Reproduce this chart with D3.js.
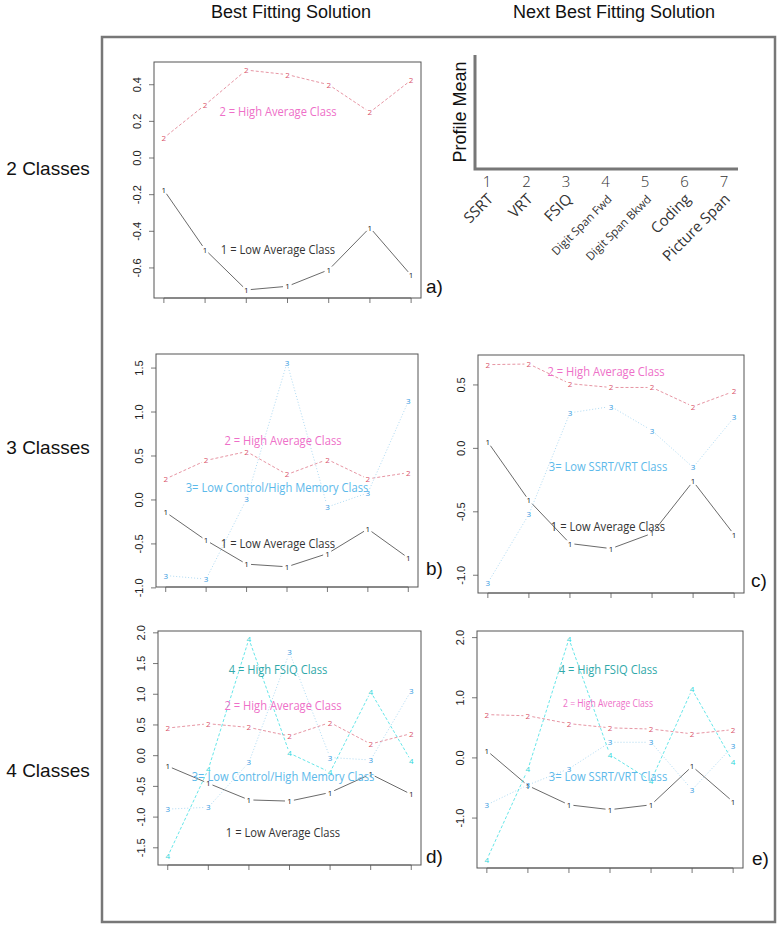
<!DOCTYPE html>
<html>
<head>
<meta charset="utf-8">
<script src="https://cdn.jsdelivr.net/npm/d3@7"></script>
<style>
  body { margin: 0; background: #fff; }
  svg { display: block; }
</style>
</head>
<body>
<script>
// ---------------- data ----------------
var tests = ["SSRT", "VRT", "FSIQ", "Digit Span Fwd", "Digit Span Bkwd", "Coding", "Picture Span"];
var xTicks = [1, 2, 3, 4, 5, 6, 7];

// a) 2 classes, best
var a_low  = [-0.175, -0.50, -0.72, -0.70, -0.61, -0.38, -0.64];
var a_high = [0.11, 0.29, 0.48, 0.455, 0.40, 0.25, 0.425];
var a_yTicks = [-0.6, -0.4, -0.2, 0.0, 0.2, 0.4];

// b) 3 classes, best
var b_low  = [-0.14, -0.46, -0.73, -0.76, -0.61, -0.33, -0.66];
var b_high = [0.24, 0.45, 0.55, 0.29, 0.46, 0.24, 0.31];
var b_ctrl = [-0.86, -0.90, 0.01, 1.56, -0.08, 0.08, 1.12];
var b_yTicks = [-1.0, -0.5, 0.0, 0.5, 1.0, 1.5];

// c) 3 classes, next best
var c_low  = [0.05, -0.41, -0.75, -0.79, -0.67, -0.26, -0.68];
var c_high = [0.66, 0.665, 0.51, 0.48, 0.48, 0.33, 0.45];
var c_ssrt = [-1.06, -0.52, 0.28, 0.33, 0.14, -0.15, 0.245];
var c_yTicks = [-1.0, -0.5, 0.0, 0.5];

// d) 4 classes, best
var d_low  = [-0.17, -0.45, -0.72, -0.74, -0.60, -0.30, -0.63];
var d_high = [0.45, 0.52, 0.46, 0.32, 0.54, 0.19, 0.36];
var d_ctrl = [-0.87, -0.84, -0.11, 1.68, -0.03, -0.07, 1.06];
var d_fsiq = [-1.64, -0.22, 1.90, 0.04, -0.27, 1.04, -0.09];
var d_yTicks = [-1.5, -1.0, -0.5, 0.0, 0.5, 1.0, 1.5, 2.0];

// e) 4 classes, next best
var e_low  = [0.12, -0.46, -0.78, -0.86, -0.78, -0.14, -0.73];
var e_high = [0.72, 0.70, 0.57, 0.50, 0.48, 0.40, 0.47];
var e_ssrt = [-0.78, -0.45, -0.18, 0.26, 0.26, -0.53, 0.20];
var e_fsiq = [-1.69, -0.19, 1.98, 0.05, -0.38, 1.14, -0.07];
var e_yTicks = [-1.0, 0.0, 1.0, 2.0];

// ---------------- styles ----------------
var width = 780, height = 926;
var sans = "'Liberation Sans', Arial, sans-serif";
var open = "'Open Sans', 'Noto Sans', sans-serif";

var cls = {
  1: {line: "#444", mark: "#222", dash: null,  text: "#333"},
  2: {line: "#e07a8c", mark: "#d9536b", dash: "3,2", text: "#ee6fc8"},
  3: {line: "#9bd0ef", mark: "#2f97e0", dash: "1,2", text: "#5cb9ea"},
  4: {line: "#3fe0e3", mark: "#2ad6da", dash: "3,2", text: "#30a9aa"}
};

var svg = d3.select("body").append("svg")
    .attr("width", width)
    .attr("height", height);

// outer frame
svg.append("rect")
    .attr("x", 102).attr("y", 37)
    .attr("width", 673).attr("height", 885)
    .attr("fill", "none")
    .attr("stroke", "#777")
    .attr("stroke-width", 2.5);

// column titles
svg.append("text").attr("x", 291).attr("y", 18)
    .attr("text-anchor", "middle").style("font-family", sans).style("font-size", "18px")
    .attr("fill", "#111").text("Best Fitting Solution");
svg.append("text").attr("x", 614).attr("y", 18)
    .attr("text-anchor", "middle").style("font-family", sans).style("font-size", "18px")
    .attr("fill", "#111").text("Next Best Fitting Solution");

// row titles
[["2 Classes", 175], ["3 Classes", 454], ["4 Classes", 777]].forEach(function(r){
  svg.append("text").attr("x", 48).attr("y", r[1])
      .attr("text-anchor", "middle").style("font-family", sans).style("font-size", "19px")
      .attr("fill", "#111").text(r[0]);
});

// ---------------- panels ----------------
function drawPanel(p){
  var g = svg.append("g");
  var x = d3.scaleLinear().domain([0.76, 7.24]).range([p.left, p.right]);
  var y = d3.scaleLinear().domain(p.yLim).range([p.bottom, p.top]);

  // x ticks
  g.selectAll(".xt").data(xTicks).enter().append("line")
      .attr("x1", function(d){ return x(d); }).attr("x2", function(d){ return x(d); })
      .attr("y1", p.bottom).attr("y2", p.bottom + 5)
      .attr("stroke", "#555").attr("stroke-width", 0.8);
  g.append("line")
      .attr("x1", x(1)).attr("x2", x(7)).attr("y1", p.bottom).attr("y2", p.bottom)
      .attr("stroke", "#555").attr("stroke-width", 0.8);

  // y ticks
  g.selectAll(".yt").data(p.yTicks).enter().append("line")
      .attr("x1", p.left - 5).attr("x2", p.left)
      .attr("y1", function(d){ return y(d); }).attr("y2", function(d){ return y(d); })
      .attr("stroke", "#555").attr("stroke-width", 0.8);
  g.selectAll(".yl").data(p.yTicks).enter().append("text")
      .attr("transform", function(d){ return "translate(" + (p.left - 13) + "," + y(d) + ") rotate(-90)"; })
      .attr("text-anchor", "middle")
      .style("font-family", sans).style("font-size", "11px")
      .attr("fill", "#222")
      .text(function(d){ return d3.format(".1f")(d).replace("−", "-"); });

  // box
  g.append("rect")
      .attr("x", p.left).attr("y", p.top)
      .attr("width", p.right - p.left).attr("height", p.bottom - p.top)
      .attr("fill", "none").attr("stroke", "#555").attr("stroke-width", 1);

  // series, drawn like R type="b": segments with gaps round each point
  p.series.forEach(function(s){
    var st = cls[s.id];
    var pts = s.values.map(function(v, i){ return [x(xTicks[i]), y(v)]; });
    var gap = 4.5;
    for (var i = 0; i < pts.length - 1; i++){
      var dx = pts[i+1][0] - pts[i][0], dy = pts[i+1][1] - pts[i][1];
      var len = Math.sqrt(dx*dx + dy*dy);
      if (len <= 2*gap) continue;
      var ux = dx/len, uy = dy/len;
      g.append("line")
          .attr("x1", pts[i][0] + ux*gap).attr("y1", pts[i][1] + uy*gap)
          .attr("x2", pts[i+1][0] - ux*gap).attr("y2", pts[i+1][1] - uy*gap)
          .attr("stroke", st.line).attr("stroke-width", 0.8)
          .attr("stroke-dasharray", st.dash);
    }
    g.selectAll(null).data(pts).enter().append("text")
        .attr("x", function(d){ return d[0]; })
        .attr("y", function(d){ return d[1] + 3; })
        .attr("text-anchor", "middle")
        .style("font-family", open).style("font-size", "8px")
        .attr("fill", st.mark)
        .text(s.id);
  });

  // class labels
  p.labels.forEach(function(l){
    var fs = l.size || 13;
    g.append("text")
        .attr("transform", "translate(" + l.x + "," + l.y + ") scale(0.86,1)")
        .attr("text-anchor", "middle")
        .style("font-family", open).style("font-size", fs + "px")
        .attr("fill", cls[l.id].text)
        .text(l.text);
  });

  // panel letter
  svg.append("text").attr("x", p.tagX).attr("y", p.tagY)
      .style("font-family", sans).style("font-size", "19px")
      .attr("fill", "#111").text(p.tag);
}

drawPanel({
  left: 154, right: 421, top: 62, bottom: 298, yLim: [-0.764, 0.524], yTicks: a_yTicks,
  series: [{id: 1, values: a_low}, {id: 2, values: a_high}],
  labels: [{id: 2, x: 278, y: 116, text: "2 = High Average Class"},
           {id: 1, x: 278, y: 254, text: "1 = Low Average Class"}],
  tag: "a)", tagX: 426, tagY: 293
});

drawPanel({
  left: 156, right: 418, top: 354, bottom: 587, yLim: [-0.99, 1.66], yTicks: b_yTicks,
  series: [{id: 1, values: b_low}, {id: 2, values: b_high}, {id: 3, values: b_ctrl}],
  labels: [{id: 2, x: 283, y: 445, text: "2 = High Average Class"},
           {id: 3, x: 277, y: 492, text: "3= Low Control/High Memory Class"},
           {id: 1, x: 278, y: 548, text: "1 = Low Average Class"}],
  tag: "b)", tagX: 426, tagY: 575
});

drawPanel({
  left: 478, right: 744, top: 355, bottom: 593, yLim: [-1.14, 0.736], yTicks: c_yTicks,
  series: [{id: 1, values: c_low}, {id: 2, values: c_high}, {id: 3, values: c_ssrt}],
  labels: [{id: 2, x: 606, y: 376, text: "2 = High Average Class"},
           {id: 3, x: 608, y: 471, text: "3= Low SSRT/VRT Class"},
           {id: 1, x: 608, y: 531, text: "1 = Low Average Class"}],
  tag: "c)", tagX: 751, tagY: 587
});

drawPanel({
  left: 158, right: 421, top: 631, bottom: 865, yLim: [-1.78, 2.03], yTicks: d_yTicks,
  series: [{id: 1, values: d_low}, {id: 2, values: d_high}, {id: 3, values: d_ctrl}, {id: 4, values: d_fsiq}],
  labels: [{id: 4, x: 278, y: 674, text: "4 = High FSIQ Class"},
           {id: 2, x: 283, y: 710, text: "2 = High Average Class"},
           {id: 3, x: 283, y: 781, text: "3= Low Control/High Memory Class"},
           {id: 1, x: 283, y: 837, text: "1 = Low Average Class"}],
  tag: "d)", tagX: 426, tagY: 863
});

drawPanel({
  left: 477, right: 743, top: 631, bottom: 868, yLim: [-1.83, 2.11], yTicks: e_yTicks,
  series: [{id: 1, values: e_low}, {id: 2, values: e_high}, {id: 3, values: e_ssrt}, {id: 4, values: e_fsiq}],
  labels: [{id: 4, x: 608, y: 674, text: "4 = High FSIQ Class"},
           {id: 2, x: 608, y: 707, text: "2 = High Average Class", size: 10},
           {id: 3, x: 608, y: 781, text: "3= Low SSRT/VRT Class"}],
  tag: "e)", tagX: 752, tagY: 865
});

// ---------------- key panel (variable names) ----------------
var kx = d3.scaleLinear().domain([1, 7]).range([487, 724]);
var key = svg.append("g");
key.append("path")
    .attr("d", "M475,55 L475,169 L738,169")
    .attr("fill", "none").attr("stroke", "#777").attr("stroke-width", 3);
key.append("text")
    .attr("transform", "translate(466,112) rotate(-90)")
    .attr("text-anchor", "middle")
    .style("font-family", sans).style("font-size", "18px")
    .attr("fill", "#111").text("Profile Mean");
key.selectAll(".kn").data(xTicks).enter().append("text")
    .attr("x", function(d){ return kx(d); }).attr("y", 187)
    .attr("text-anchor", "middle")
    .style("font-family", open).style("font-size", "15px").style("font-weight", 300)
    .attr("fill", "#333").text(function(d){ return d; });
key.selectAll(".kl").data(tests).enter().append("text")
    .attr("transform", function(d, i){ return "translate(" + (kx(xTicks[i]) + 7) + ",200) rotate(-45)"; })
    .attr("text-anchor", "end")
    .style("font-family", open)
    .style("font-size", function(d){ return d.indexOf("Digit") === 0 ? "11.5px" : "15px"; })
    .attr("fill", "#333").text(function(d){ return d; });
</script>
</body>
</html>
